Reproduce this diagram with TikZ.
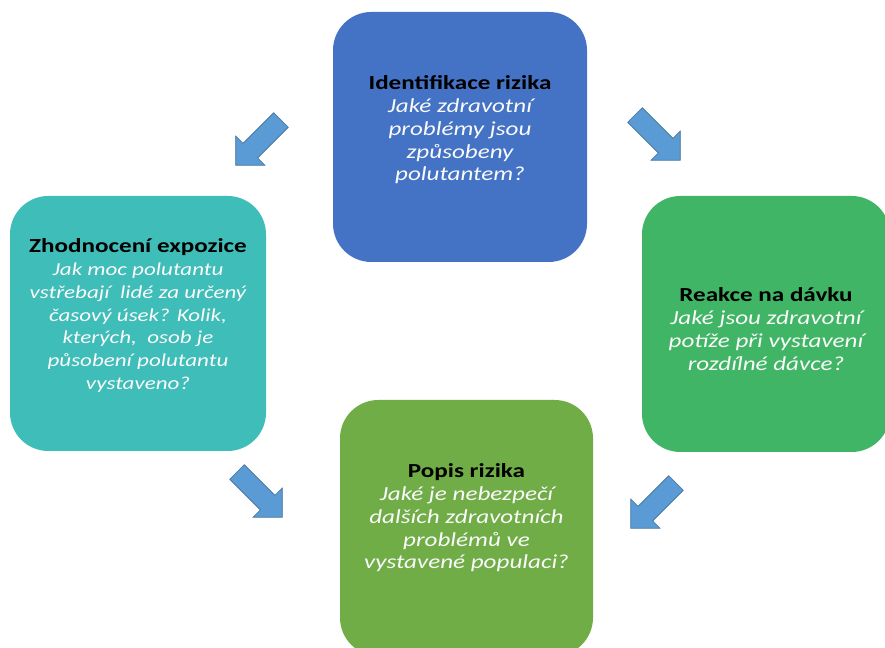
\documentclass[tikz,border=0pt]{standalone}
\usepackage{fontspec}
\setmainfont{Carlito}[FakeStretch=1.26]
\usetikzlibrary{positioning, calc}
\definecolor{modra}{HTML}{4472C4}
\definecolor{tyrkys}{HTML}{3FBDB9}
\definecolor{zelena}{HTML}{40B565}
\definecolor{trava}{HTML}{70AD47}
\definecolor{sipkavypln}{HTML}{5B9BD5}
\definecolor{sipkaokraj}{HTML}{41719C}
\newcommand{\titul}[1]{{\upshape\bfseries\color{black}#1}}

\begin{document}
\begin{tikzpicture}[
  krok/.style={rounded corners=1.15cm, inner sep=0pt},
  txt/.style={align=center, inner sep=0pt, text=white!96!gray,
    font=\fontsize{17}{19.6}\selectfont\itshape},
  sipka/.pic={
    \filldraw[fill=sipkavypln, draw=sipkaokraj, line width=0.5pt]
      (0,-0.31) -- (1.3,-0.31) -- (1.3,-0.62) -- (1.92,0) -- (1.3,0.62)
      -- (1.3,0.31) -- (0,0.31) -- cycle;
  }
]
\useasboundingbox[fill=white] (0,0) rectangle (26.55,19.44);

% ctyri kroky
\node[krok, fill=modra, minimum width=7.62cm, minimum height=7.5cm] (ident) at (13.8,15.33) {};
\node[krok, fill=tyrkys, minimum width=7.68cm, minimum height=7.65cm] (expo) at (4.14,9.735) {};
\node[krok, fill=zelena, minimum width=7.44cm, minimum height=7.68cm] (reakce) at (22.98,9.72) {};
\node[krok, fill=trava, minimum width=7.59cm, minimum height=7.68cm] (popis) at (13.995,3.6) {};

\node[txt] (identtxt) at ([yshift=0.22cm]ident.center)
  {\titul{Identifikace rizika}\\Jaké zdravotní\\problémy jsou\\způsobeny\\polutantem?};
\node[txt, font=\fontsize{15.6}{19.6}\selectfont\itshape] (expotxt) at ([yshift=0.24cm]expo.center)
  {\titul{\fontsize{17}{19.6}\selectfont Zhodnocení expozice}\\Jak moc polutantu\\vstřebají~ lidé za určený\\časový úsek? Kolik,\\kterých,~ osob je\\působení polutantu\\vystaveno?};
\node[txt] (reakcetxt) at ([yshift=-0.14cm]reakce.center)
  {\titul{Reakce na dávku}\\Jaké jsou zdravotní\\potíže při vystavení\\rozdílné dávce?};
\node[txt] (popistxt) at ([yshift=0.31cm]popis.center)
  {\titul{Popis rizika}\\Jaké je nebezpečí\\dalších zdravotních\\problémů ve\\vystavené populaci?};

% sipky mezi kroky
\pic[rotate=225] (s1) at (8.43,15.84) {sipka};
\pic[rotate=-45] (s2) at (19.05,15.99) {sipka};
\pic[rotate=-45] (s3) at (7.11,5.28) {sipka};
\pic[rotate=225] (s4) at (20.28,4.95) {sipka};
\end{tikzpicture}
\end{document}
